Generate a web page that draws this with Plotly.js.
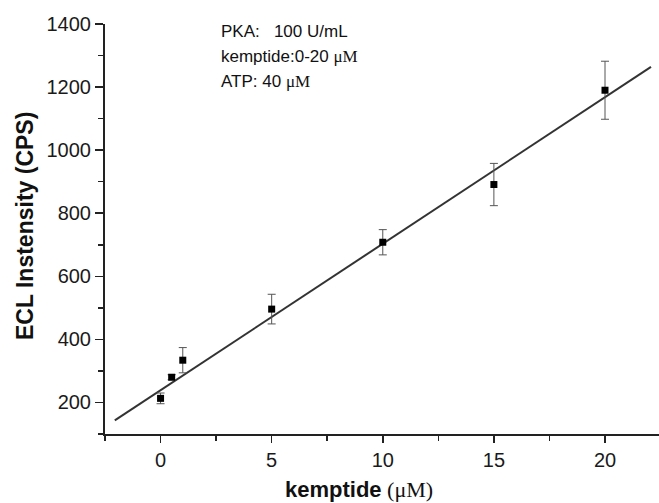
<!DOCTYPE html>
<html>
<head>
<meta charset="utf-8">
<script src="https://cdn.plot.ly/plotly-3.0.1.min.js"></script>
<style>html,body{margin:0;padding:0;background:#fff;}#chart{width:659px;height:503px;}</style>
</head>
<body>
<div id="chart"></div>
<script>
// Data
const kemptide = [0, 0.5, 1, 5, 10, 15, 20];          // µM
const eclIntensity = [213, 280, 334, 496, 708, 891, 1190]; // CPS
const eclError = [17, 8, 40, 47, 40, 67, 92];
// Linear fit line endpoints (as drawn)
const fitX = [-2.06, 22.07];
const fitY = [143, 1264];
const infoLines = ['PKA:   100 U/mL', 'kemptide:0-20 ', 'ATP: 40 '];

const serif = 'font-family:\'Liberation Serif\',\'Times New Roman\',serif';
const mu = '<span style="' + serif + '">μM</span>';

const traces = [
  {
    x: fitX, y: fitY, type: 'scatter', mode: 'lines',
    line: {color: '#333333', width: 2}, hoverinfo: 'skip', showlegend: false
  },
  {
    x: kemptide, y: eclIntensity, type: 'scatter', mode: 'markers',
    marker: {symbol: 'square', size: 7, color: '#000000'},
    error_y: {type: 'data', array: eclError, visible: true, color: '#555555', thickness: 1, width: 4},
    showlegend: false
  }
];

const L = 105, R = 0, T = 24, B = 69;
const W = 659, H = 503;
const pw = W - L - R, ph = H - T - B;
const px = v => (v - L) / pw;
const py = v => (H - B - v) / ph;

const tickFont = {family: 'Arial, "Liberation Sans", sans-serif', size: 20, color: '#1a1a1a'};
const textFont = {family: 'Arial, "Liberation Sans", sans-serif', size: 17, color: '#111111'};

const annotations = [
  {text: infoLines[0], x: px(219), y: py(31.5)},
  {text: infoLines[1] + mu, x: px(219), y: py(56.5)},
  {text: infoLines[2] + mu, x: px(219), y: py(81)}
].map(a => Object.assign(a, {xref: 'paper', yref: 'paper', xanchor: 'left', yanchor: 'middle', showarrow: false, font: textFont}));

annotations.push({
  text: '<b>kemptide</b><span style="' + serif + '"> (μM)</span>',
  xref: 'paper', yref: 'paper', x: px(359), y: py(489), xanchor: 'center', yanchor: 'middle',
  showarrow: false, font: {family: 'Arial, "Liberation Sans", sans-serif', size: 22, color: '#111111'}
});
annotations.push({
  text: '<b>ECL Instensity (CPS)</b>',
  xref: 'paper', yref: 'paper', x: px(25), y: py(226), xanchor: 'center', yanchor: 'middle',
  textangle: -90, showarrow: false, font: {family: 'Arial, "Liberation Sans", sans-serif', size: 23, color: '#111111'}
});

const layout = {
  width: W, height: H,
  margin: {l: L, r: R, t: T, b: B, pad: 0},
  paper_bgcolor: '#ffffff', plot_bgcolor: '#ffffff',
  showlegend: false,
  xaxis: {
    range: [-2.5, 22.43], tick0: 0, dtick: 5, showgrid: false, zeroline: false,
    showline: true, linecolor: '#222222', linewidth: 2,
    ticks: 'outside', ticklen: 7, tickwidth: 1.5, tickcolor: '#222222',
    minor: {dtick: 2.5, tick0: 0, ticks: 'outside', ticklen: 5, tickwidth: 1.5, tickcolor: '#222222', showgrid: false},
    tickfont: tickFont
  },
  yaxis: {
    range: [100, 1400], tick0: 0, dtick: 200, showgrid: false, zeroline: false,
    showline: true, linecolor: '#222222', linewidth: 2,
    ticks: 'outside', ticklen: 8, tickwidth: 1.5, tickcolor: '#222222',
    minor: {dtick: 100, tick0: 0, ticks: 'outside', ticklen: 5, tickwidth: 1.5, tickcolor: '#222222', showgrid: false},
    tickfont: tickFont
  },
  annotations: annotations
};

Plotly.newPlot('chart', traces, layout, {displayModeBar: false, staticPlot: true});
</script>
</body>
</html>
